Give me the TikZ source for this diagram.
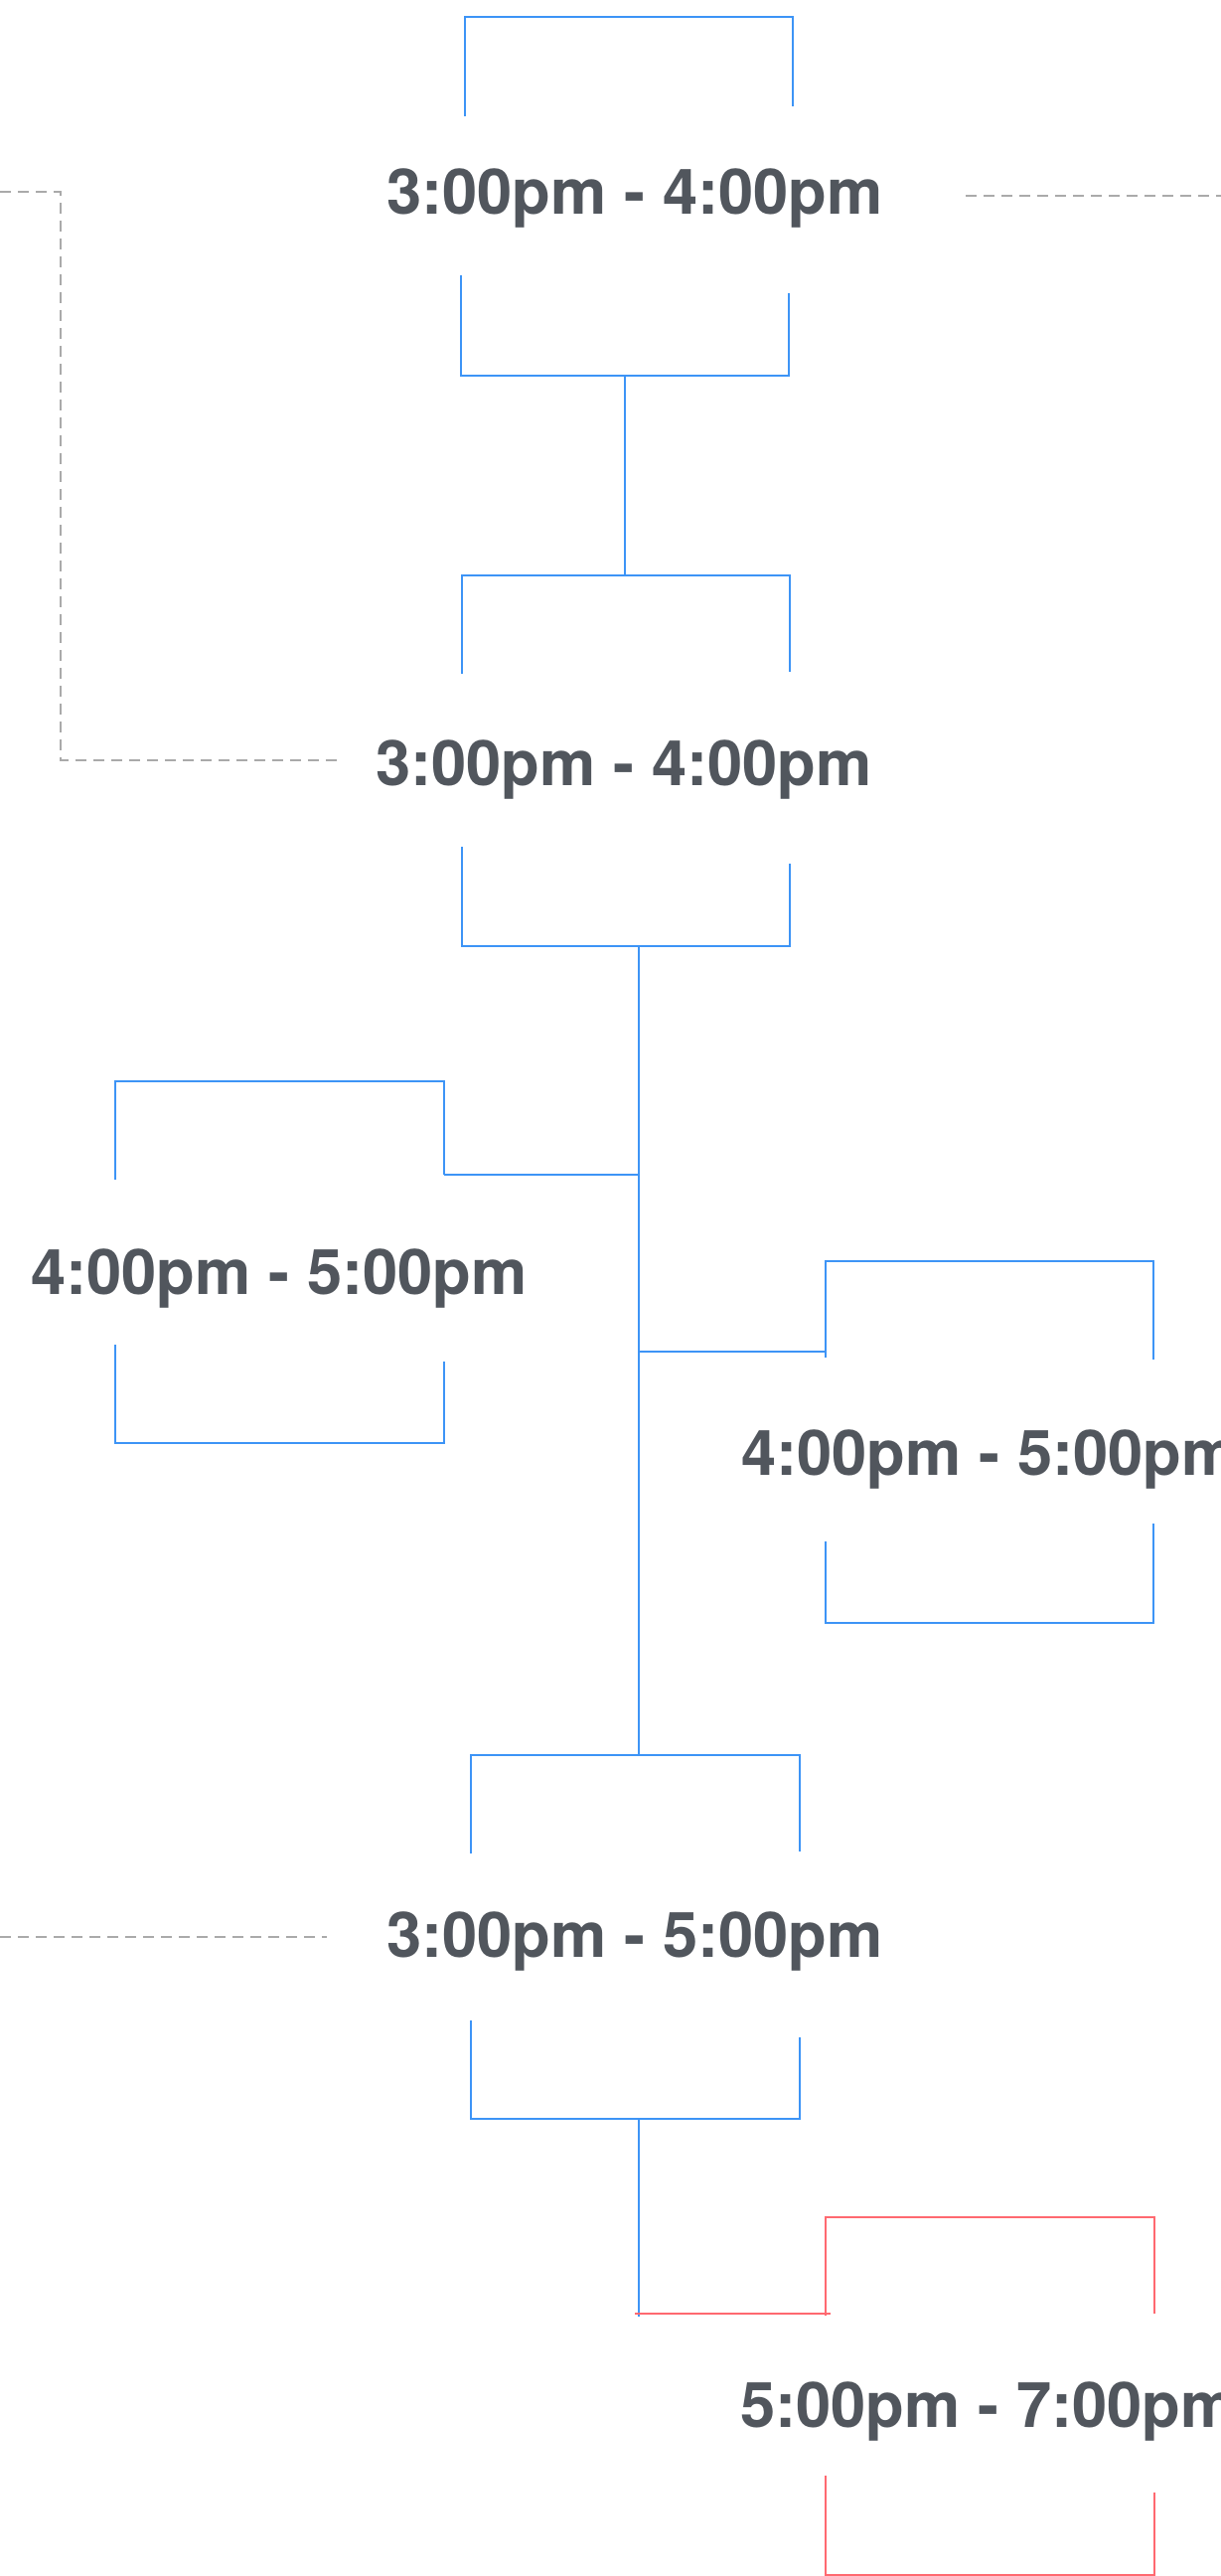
\documentclass[tikz,border=0pt]{standalone}
\usepackage{fontspec}
\setmainfont{TeX Gyre Heros}
\definecolor{slotblue}{RGB}{61,148,246}
\definecolor{slotred}{RGB}{255,105,112}
\definecolor{slottext}{RGB}{81,86,93}
\definecolor{linkgray}{RGB}{170,170,170}

\begin{document}
\begin{tikzpicture}[x=0.1mm,y=-0.1mm]

		\tikzset{
		  slot/.style={
			text=slottext,
			font=\bfseries\fontsize{18}{20}\selectfont,
			inner sep=0pt,
			anchor=base,
		  },
		  frame/.style={color=slotblue,line width=0.2mm},
		  alert/.style={color=slotred,line width=0.2mm},
		  link/.style={color=linkgray,line width=0.2mm,dash pattern=on 1.1mm off 0.7mm},
		}
		\useasboundingbox (0,0) rectangle (1229,2592);
		\clip (0,0) rectangle (1229,2592);

		% time slots
		\node[slot] (first) at (639,215) {3:00pm - 4:00pm};
		\node[slot] (second) at (628,790) {3:00pm - 4:00pm};
		\node[slot] (early) at (281,1302) {4:00pm - 5:00pm};
		\node[slot] (late) at (996,1484) {4:00pm - 5:00pm};
		\node[slot] (merged) at (639,1969) {3:00pm - 5:00pm};
		\node[slot] (evening) at (995,2442) {5:00pm - 7:00pm};

		% brackets
		\draw[frame] (468,117)--(468,17)--(798,17)--(798,107);
		\draw[frame] (464,277)--(464,378)--(794,378)--(794,295);
		\draw[frame] (465,678)--(465,579)--(795,579)--(795,676);
		\draw[frame] (465,852)--(465,952)--(795,952)--(795,869);
		\draw[frame] (116,1187)--(116,1088)--(447,1088)--(447,1182);
		\draw[frame] (116,1353)--(116,1452)--(447,1452)--(447,1370);
		\draw[frame] (831,1366)--(831,1269)--(1161,1269)--(1161,1368);
		\draw[frame] (831,1551)--(831,1633)--(1161,1633)--(1161,1533);
		\draw[frame] (474,1865)--(474,1766)--(805,1766)--(805,1863);
		\draw[frame] (474,2033)--(474,2132)--(805,2132)--(805,2050);
		\draw[alert] (831,2330)--(831,2231)--(1162,2231)--(1162,2328);
		\draw[alert] (831,2491)--(831,2591)--(1162,2591)--(1162,2508);

		% connector ends
		\coordinate (firstout) at (629,378);
		\coordinate (secondin) at (629,579);
		\coordinate (secondout) at (643,952);
		\coordinate (earlyin) at (447,1182);
		\coordinate (forkA) at (643,1182);
		\coordinate (forkB) at (643,1360);
		\coordinate (latein) at (831,1360);
		\coordinate (mergedin) at (643,1766);
		\coordinate (mergedout) at (643,2132);
		\coordinate (forkC) at (643,2331);
		\coordinate (forkD) at (639,2328);
		\coordinate (eveningin) at (836,2328);

		\draw[frame] (firstout)--(secondin);
		\draw[frame] (secondout)--(mergedin);
		\draw[frame] (forkA)--(earlyin);
		\draw[frame] (forkB)--(latein);
		\draw[frame] (mergedout)--(forkC);
		\draw[alert] (forkD)--(eveningin);

		% dashed links
		\coordinate (offleft) at (0,193);
		\coordinate (secondtag) at (339,765);
		\coordinate (firsttag) at (972,197);
		\coordinate (offright) at (1229,197);
		\coordinate (offleftb) at (0,1949);
		\coordinate (mergedtag) at (329,1949);
		\draw[link] (offleft)--(61,193)--(61,765)--(secondtag);
		\draw[link] (firsttag)--(offright);
		\draw[link] (offleftb)--(mergedtag);

	\end{tikzpicture}
\end{document}
